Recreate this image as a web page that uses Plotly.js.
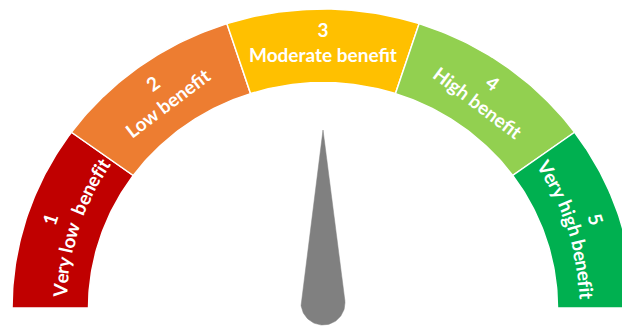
<!DOCTYPE html>
<html>
<head>
<meta charset="utf-8">
<script src="https://cdn.plot.ly/plotly-3.0.1.min.js"></script>
<style>
  html, body { margin: 0; padding: 0; background: #ffffff; }
  #gauge { width: 622px; height: 327px; }
</style>
</head>
<body>
<div id="gauge"></div>
<script>
// Benefit scale shown as a half-dial gauge
const levels = [1, 2, 3, 4, 5];
const labels = ['Very low\u00A0 benefit', 'Low benefit', 'Moderate benefit', 'High benefit', 'Very high benefit'];
const colors = ['#C00000', '#ED7D31', '#FFC000', '#92D050', '#00B050'];
const needleValue = 3;

// Geometry of the dial (unit = outer radius)
const R_OUT = 1.0;
const R_IN = 0.754;
const R_TXT = 0.89;
const W = 622, H = 327;
const xRange = [-1.0386, 0.9614];
const yRange = [-0.0635, 1.0301];
const pxX = W / (xRange[1] - xRange[0]);
const pxY = H / (yRange[1] - yRange[0]);

const FONT_FAMILY = 'Lato';
const FONT_SIZE = 19;
const LINE_GAP = 1.25 * FONT_SIZE;
// end segments carry their label along the arc, the others as straight rotated text
const arcLabelled = new Set([0, levels.length - 1]);

const n = levels.length;
const step = 180 / n;
const rad = d => d * Math.PI / 180;
const deg = r => r * 180 / Math.PI;

// Band segments
const traces = levels.map((lv, i) => {
  const a0 = 180 - i * step, a1 = 180 - (i + 1) * step;
  const xs = [], ys = [];
  const N = 48;
  for (let k = 0; k <= N; k++) {
    const a = rad(a0 + (a1 - a0) * k / N);
    xs.push(R_OUT * Math.cos(a)); ys.push(R_OUT * Math.sin(a));
  }
  for (let k = N; k >= 0; k--) {
    const a = rad(a0 + (a1 - a0) * k / N);
    xs.push(R_IN * Math.cos(a)); ys.push(R_IN * Math.sin(a));
  }
  xs.push(xs[0]); ys.push(ys[0]);
  return {
    type: 'scatter', mode: 'lines', x: xs, y: ys,
    fill: 'toself', fillcolor: colors[i],
    line: { color: '#ffffff', width: 1.5 },
    hoverinfo: 'skip', showlegend: false
  };
});

// Needle: teardrop with a round base, built in pixel units then mapped to axis units
(function () {
  const theta = rad(180 - (needleValue - 0.5) * step);
  const ux = Math.cos(theta), uy = Math.sin(theta);
  const baseOff = 5, baseR = 22, tipLen = 178;
  const D = tipLen - baseOff;
  const phi = Math.acos(baseR / D);
  const xs = [], ys = [];
  const push = (px, py) => { xs.push(px / pxX); ys.push(py / pxY); };
  push(ux * tipLen, uy * tipLen);
  const N = 60;
  for (let k = 0; k <= N; k++) {
    const a = theta + phi + (2 * Math.PI - 2 * phi) * k / N;
    push(ux * baseOff + baseR * Math.cos(a), uy * baseOff + baseR * Math.sin(a));
  }
  push(ux * tipLen, uy * tipLen);
  traces.push({
    type: 'scatter', mode: 'lines', x: xs, y: ys,
    fill: 'toself', fillcolor: '#808080',
    line: { color: '#808080', width: 0.5 },
    hoverinfo: 'skip', showlegend: false
  });
})();

// Text measuring for the arc-set labels
const ctx = document.createElement('canvas').getContext('2d');
ctx.font = '700 ' + FONT_SIZE + 'px ' + FONT_FAMILY;
const font = { family: FONT_FAMILY + ', "Open Sans", sans-serif', size: FONT_SIZE, color: '#ffffff', weight: 700 };

function pixelRadius(r, a) {
  return r * Math.hypot(Math.cos(a) * pxX, Math.sin(a) * pxY);
}

// One line of text laid along a circle around the dial centre, read clockwise
function arcLine(text, rPx, midDeg) {
  const out = [];
  const total = ctx.measureText(text).width;
  let s = -total / 2;
  for (const ch of text) {
    const w = ctx.measureText(ch).width;
    const sc = s + w / 2;
    s += w;
    if (ch.trim() === '') continue;
    const a = rad(midDeg) - sc / rPx;
    out.push({
      x: rPx * Math.cos(a) / pxX, y: rPx * Math.sin(a) / pxY,
      xref: 'x', yref: 'y', text: ch, showarrow: false,
      xanchor: 'center', yanchor: 'middle',
      textangle: 90 - deg(a), font: font
    });
  }
  return out;
}

const annotations = [];
levels.forEach((lv, i) => {
  const mid = 180 - (i + 0.5) * step;
  const a = rad(mid);
  if (arcLabelled.has(i)) {
    const rPx = pixelRadius(R_TXT, a);
    annotations.push(...arcLine(String(lv), rPx + LINE_GAP / 2, mid));
    annotations.push(...arcLine(labels[i], rPx - LINE_GAP / 2, mid));
  } else {
    const x = R_TXT * Math.cos(a);
    const y = R_TXT * Math.sin(a);
    const phiPx = deg(Math.atan2(y * pxY, x * pxX));
    annotations.push({
      x: x, y: y, xref: 'x', yref: 'y',
      text: lv + '<br>' + labels[i],
      showarrow: false,
      xanchor: 'center', yanchor: 'middle',
      textangle: 90 - phiPx,
      font: font
    });
  }
});

const layout = {
  width: W, height: H,
  margin: { l: 0, r: 0, t: 0, b: 0 },
  paper_bgcolor: '#ffffff', plot_bgcolor: '#ffffff',
  showlegend: false,
  xaxis: { range: xRange, visible: false, fixedrange: true },
  yaxis: { range: yRange, visible: false, fixedrange: true },
  annotations: annotations
};

Plotly.newPlot('gauge', traces, layout, { staticPlot: true, displayModeBar: false });
</script>
</body>
</html>
